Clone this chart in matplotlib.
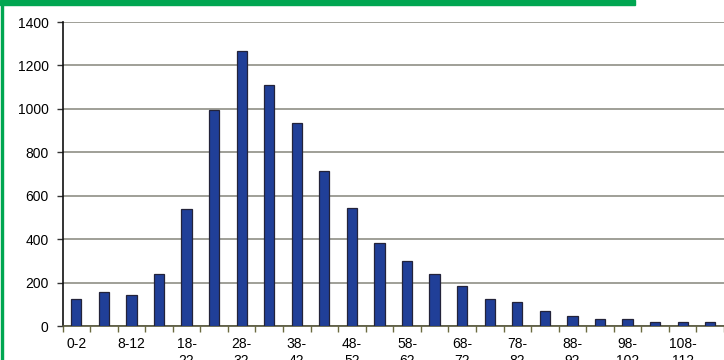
import matplotlib
matplotlib.use("Agg")
import matplotlib.pyplot as plt
from matplotlib.patches import Rectangle

plt.rcParams['font.family'] = ['Liberation Sans', 'DejaVu Sans']

categories = ["0-2", "3-7", "8-12", "13-17", "18-22", "23-27", "28-32", "33-37",
              "38-42", "43-47", "48-52", "53-57", "58-62", "63-67", "68-72", "73-77",
              "78-82", "83-87", "88-92", "93-97", "98-102", "103-107", "108-112",
              "113-117"]
counts = [126, 158, 141, 238, 540, 996, 1266, 1112, 937, 715, 545, 384, 298, 241,
          183, 124, 109, 68, 45, 31, 30, 17, 20, 17]
y_ticks = [0, 200, 400, 600, 800, 1000, 1200, 1400]

W, H = 724, 360
fig = plt.figure(figsize=(W / 100, H / 100), dpi=100)

# plot area in pixel coordinates
left_px, right_px, top_px, bottom_px = 62.5, 724, 22, 326
ax = fig.add_axes([left_px / W, 1 - bottom_px / H,
                   (right_px - left_px) / W, (bottom_px - top_px) / H])

x = list(range(len(categories)))
ax.bar(x, counts, width=0.37, color="#203f98", edgecolor="#23233a",
       linewidth=0.9, zorder=3)

ax.set_xlim(-0.5, 23.22)
ax.set_ylim(0, 1400)
ax.set_yticks(y_ticks)
ax.set_yticklabels([str(v) for v in y_ticks], fontsize=10)
ax.yaxis.grid(True, color="#85857a", linewidth=1.1, zorder=0)

# category labels every other bar, wrapped at the dash
labels = []
for i, c in enumerate(categories):
    if i % 2:
        labels.append("")
    elif i < 3:
        labels.append(c)
    else:
        a, b = c.split("-")
        labels.append(a + "-\n" + b)
ax.set_xticks(x)
ax.set_xticklabels(labels, fontsize=10, linespacing=1.3)
ax.tick_params(axis="x", length=0, pad=8)
ax.set_xticks([i - 0.5 for i in range(len(categories) + 1)], minor=True)
ax.tick_params(axis="x", which="minor", length=4, color="#6b6b40", width=1)
ax.tick_params(axis="y", length=4, color="#333333", width=1, pad=6)

for s in ("top", "right"):
    ax.spines[s].set_visible(False)
ax.spines["left"].set_color("#111111")
ax.spines["left"].set_linewidth(1.2)
ax.spines["bottom"].set_color("#55553a")
ax.spines["bottom"].set_linewidth(1.2)

# green frame: top band and left rule
fig.patches.append(Rectangle((0, 1 - 4.5 / H), 635 / W, 4.5 / H,
                             transform=fig.transFigure, color="#00a651",
                             zorder=10))
fig.patches.append(Rectangle((1.3 / W, 0), 2.0 / W, 1,
                             transform=fig.transFigure, color="#00a651",
                             zorder=10))

fig.savefig("out.png", dpi=100)
